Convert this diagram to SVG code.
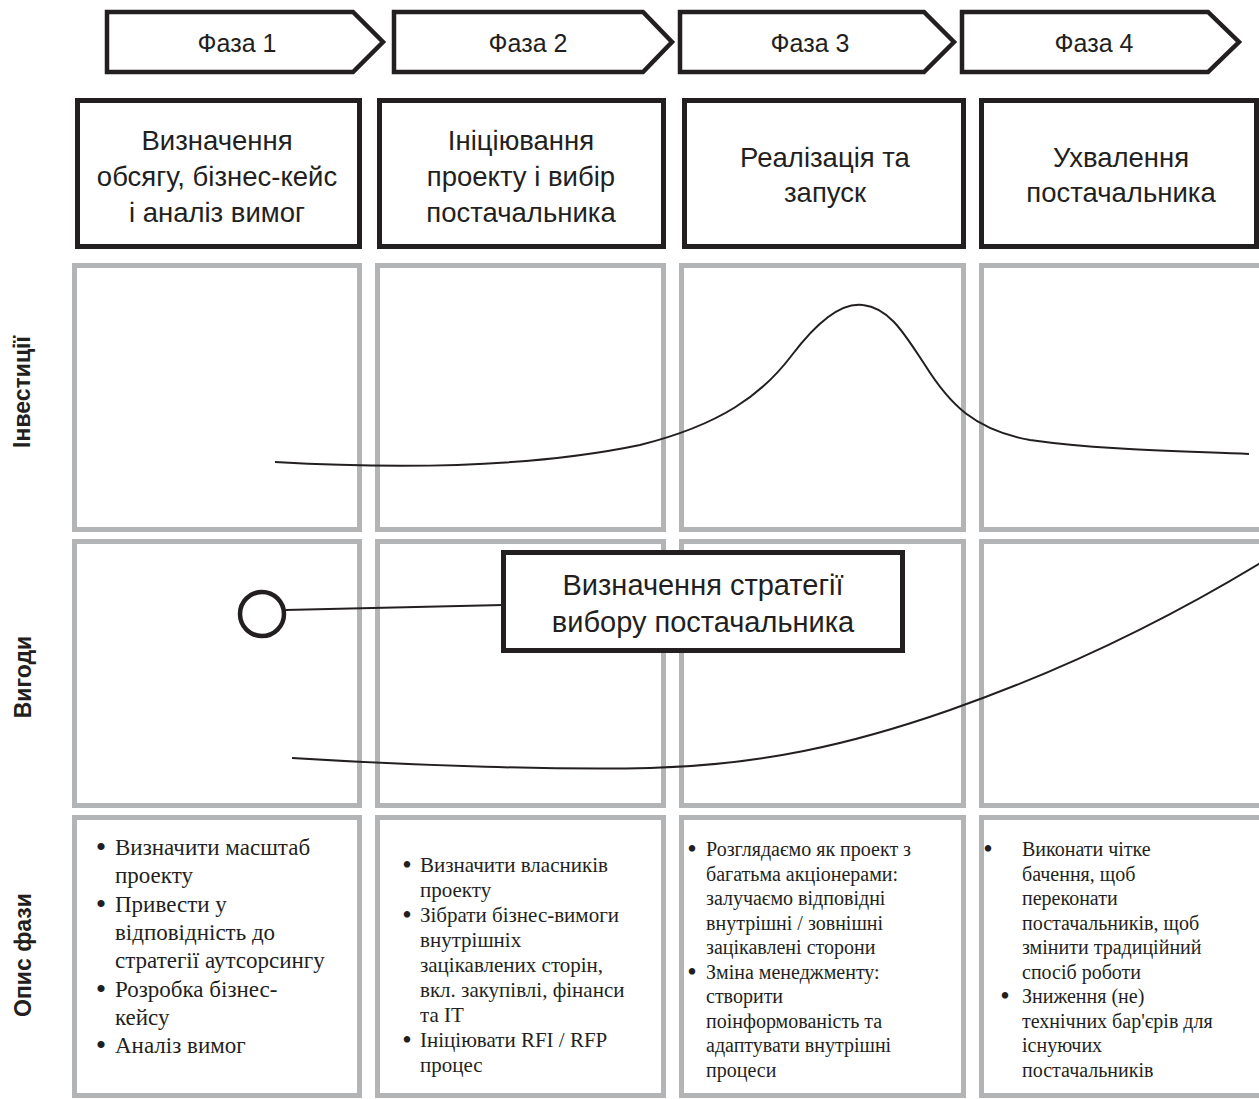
<svg xmlns="http://www.w3.org/2000/svg" width="1259" height="1099" viewBox="0 0 1259 1099">
<style>
.ph{fill:#fff;stroke:#231f20;stroke-width:4.5;stroke-linejoin:miter}
.tb{fill:#fff;stroke:#231f20;stroke-width:5}
.gb{fill:none;stroke:#b3b4b6;stroke-width:5}
.sans{font-family:"Liberation Sans",Arial,sans-serif;fill:#231f20}
.pt{font-size:25px;text-anchor:middle}
.tt{font-size:27.5px;text-anchor:middle}
.lab{font-size:23px;font-weight:bold;text-anchor:middle}
.ser{font-family:"Liberation Serif","Times New Roman",serif;fill:#231f20}
.d1{font-size:23px}
.d2{font-size:21px}
.d3{font-size:20px}
.bul{text-anchor:middle;font-size:30px}
.bul2{text-anchor:middle;font-size:27px}
.crv{fill:none;stroke:#231f20;stroke-width:2}
</style>

<g id="grid">
<rect class="gb" x="74.5" y="265.5" width="285" height="264"/>
<rect class="gb" x="377.5" y="265.5" width="286" height="264"/>
<rect class="gb" x="681.5" y="265.5" width="282" height="264"/>
<rect class="gb" x="981.5" y="265.5" width="282" height="264"/>
<rect class="gb" x="74.5" y="541.5" width="285" height="264"/>
<rect class="gb" x="377.5" y="541.5" width="286" height="264"/>
<rect class="gb" x="681.5" y="541.5" width="282" height="264"/>
<rect class="gb" x="981.5" y="541.5" width="282" height="264"/>
<rect class="gb" x="74.5" y="817.5" width="285" height="278"/>
<rect class="gb" x="377.5" y="817.5" width="286" height="278"/>
<rect class="gb" x="681.5" y="817.5" width="282" height="278"/>
<rect class="gb" x="981.5" y="817.5" width="282" height="278"/>
</g>

<g id="row-labels" class="sans lab">
<text transform="translate(30,392) rotate(-90)">Інвестиції</text>
<text transform="translate(31,677) rotate(-90)">Вигоди</text>
<text transform="translate(31,955) rotate(-90)">Опис фази</text>
</g>

<g id="phase1">
<path class="ph" d="M107,12 H353 L383,42 L353,72 H107 Z"/>
<text class="sans pt" x="237" y="52">Фаза 1</text>
</g>
<g id="phase2">
<path class="ph" d="M394,12 H643 L672,42 L643,72 H394 Z"/>
<text class="sans pt" x="528" y="52">Фаза 2</text>
</g>
<g id="phase3">
<path class="ph" d="M680,12 H924 L954,42 L924,72 H680 Z"/>
<text class="sans pt" x="810" y="52">Фаза 3</text>
</g>
<g id="phase4">
<path class="ph" d="M962,12 H1208 L1239,42 L1208,72 H962 Z"/>
<text class="sans pt" x="1094" y="52">Фаза 4</text>
</g>

<g id="title1">
<rect class="tb" x="77.5" y="100.5" width="282" height="146"/>
<text class="sans tt" x="217"><tspan x="217" y="150">Визначення</tspan><tspan x="217" y="186">обсягу, бізнес-кейс</tspan><tspan x="217" y="222">і аналіз вимог</tspan></text>
</g>
<g id="title2">
<rect class="tb" x="379.5" y="100.5" width="284" height="146"/>
<text class="sans tt" x="521"><tspan x="521" y="150">Ініціювання</tspan><tspan x="521" y="186">проекту і вибір</tspan><tspan x="521" y="222">постачальника</tspan></text>
</g>
<g id="title3">
<rect class="tb" x="684.5" y="100.5" width="279" height="146"/>
<text class="sans tt" x="825"><tspan x="825" y="167">Реалізація та</tspan><tspan x="825" y="202">запуск</tspan></text>
</g>
<g id="title4">
<rect class="tb" x="981.5" y="100.5" width="275" height="146"/>
<text class="sans tt" x="1121"><tspan x="1121" y="167">Ухвалення</tspan><tspan x="1121" y="202">постачальника</tspan></text>
</g>

<g id="curves">
<path class="crv" d="M275,462 C380,468 520,470 640,445 C720,425 762,395 792,355 C817,322 842,302 863,305 C890,308 905,335 925,365 C950,405 975,430 1030,440 C1100,450 1180,451 1249,454"/>
<path class="crv" d="M292,758 C420,766 560,770 650,768 C760,765 850,745 950,710 C1050,675 1150,630 1262,562"/>
</g>

<g id="connectors">
<line x1="285" y1="610" x2="503" y2="605" stroke="#231f20" stroke-width="2"/>
</g>

<g id="milestone">
<circle cx="262" cy="614" r="22" fill="#fff" stroke="#231f20" stroke-width="4.5"/>
</g>

<g id="strategy">
<rect class="tb" x="503.5" y="552.5" width="399" height="98"/>
<text class="sans" font-size="29" text-anchor="middle" x="703"><tspan x="703" y="595">Визначення стратегії</tspan><tspan x="703" y="632">вибору постачальника</tspan></text>
</g>

<g id="desc1" class="ser d1">
<text class="bul" x="101" y="857">•</text>
<text class="bul" x="101" y="913.6">•</text>
<text class="bul" x="101" y="998.5">•</text>
<text class="bul" x="101" y="1055">•</text>
<text x="115"><tspan x="115" y="855">Визначити масштаб</tspan><tspan x="115" y="883.3">проекту</tspan><tspan x="115" y="911.6">Привести у</tspan><tspan x="115" y="940">відповідність до</tspan><tspan x="115" y="968.2">стратегії аутсорсингу</tspan><tspan x="115" y="996.5">Розробка бізнес-</tspan><tspan x="115" y="1024.8">кейсу</tspan><tspan x="115" y="1053">Аналіз вимог</tspan></text>
</g>

<g id="desc2" class="ser d2">
<text class="bul2" x="407" y="874">•</text>
<text class="bul2" x="407" y="924">•</text>
<text class="bul2" x="407" y="1049">•</text>
<text x="420"><tspan x="420" y="872">Визначити власників</tspan><tspan x="420" y="897">проекту</tspan><tspan x="420" y="922">Зібрати бізнес-вимоги</tspan><tspan x="420" y="947">внутрішніх</tspan><tspan x="420" y="972">зацікавлених сторін,</tspan><tspan x="420" y="997">вкл. закупівлі, фінанси</tspan><tspan x="420" y="1022">та IT</tspan><tspan x="420" y="1047">Ініціювати RFI / RFP</tspan><tspan x="420" y="1072">процес</tspan></text>
</g>

<g id="desc3" class="ser d3">
<text class="bul2" x="692" y="858">•</text>
<text class="bul2" x="692" y="980.5">•</text>
<text x="706"><tspan x="706" y="856">Розглядаємо як проект з</tspan><tspan x="706" y="880.5">багатьма акціонерами:</tspan><tspan x="706" y="905">залучаємо відповідні</tspan><tspan x="706" y="929.5">внутрішні / зовнішні</tspan><tspan x="706" y="954">зацікавлені сторони</tspan><tspan x="706" y="978.5">Зміна менеджменту:</tspan><tspan x="706" y="1003">створити</tspan><tspan x="706" y="1027.5">поінформованість та</tspan><tspan x="706" y="1052">адаптувати внутрішні</tspan><tspan x="706" y="1076.5">процеси</tspan></text>
</g>

<g id="desc4" class="ser d3">
<text class="bul2" x="988" y="858">•</text>
<text class="bul2" x="1005" y="1005">•</text>
<text x="1022"><tspan x="1022" y="856">Виконати чітке</tspan><tspan x="1022" y="880.5">бачення, щоб</tspan><tspan x="1022" y="905">переконати</tspan><tspan x="1022" y="929.5">постачальників, щоб</tspan><tspan x="1022" y="954">змінити традиційний</tspan><tspan x="1022" y="978.5">спосіб роботи</tspan><tspan x="1022" y="1003">Зниження (не)</tspan><tspan x="1022" y="1027.5">технічних бар'єрів для</tspan><tspan x="1022" y="1052">існуючих</tspan><tspan x="1022" y="1076.5">постачальників</tspan></text>
</g>
</svg>
